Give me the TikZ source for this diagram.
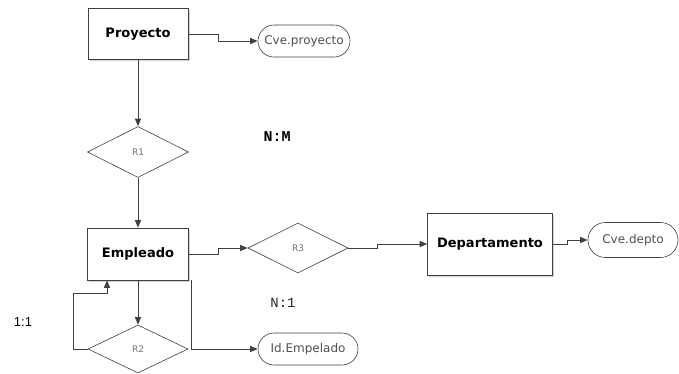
\documentclass[tikz,border=0pt]{standalone}
\usepackage{fontspec}
\setmainfont{DejaVu Sans}
\newfontfamily\monofont{Liberation Mono}
\newfontfamily\labsans{Liberation Sans}
\usetikzlibrary{shapes.geometric,shapes.misc,arrows.meta,shadows}
\definecolor{linec}{HTML}{404040}
\definecolor{txtgray}{HTML}{505050}
\begin{document}
\begin{tikzpicture}[x=1pt,y=-1pt,
  line/.style={draw=linec, line width=0.9pt},
  arr/.style={line, -{Triangle[length=7.5pt,width=6pt]}},
  entity/.style={rectangle, draw=black!75, fill=white, line width=0.6pt, inner sep=0pt,
    drop shadow={shadow xshift=1.5pt, shadow yshift=-1.5pt, opacity=0.35},
    font=\bfseries\fontsize{13}{13}\selectfont},
  rel/.style={diamond, draw=black!75, fill=white, line width=0.6pt, inner sep=0pt, aspect=2,
    text=txtgray!80, font=\fontsize{9}{9}\selectfont},
  attr/.style={rounded rectangle, draw=black!75, fill=white, line width=0.6pt, inner sep=0pt,
    text=txtgray, font=\fontsize{12}{12}\selectfont},
  card/.style={inner sep=0pt}]
\useasboundingbox (0,0) rectangle (679,373);
\fill[white] (0,0) rectangle (679,373);

\node[entity, minimum width=100pt, minimum height=51pt] (P) at (138,34) {Proyecto};
\node[attr, minimum width=92pt, minimum height=32pt] (CP) at (304,41) {Cve.proyecto};
\node[rel, minimum width=101pt, minimum height=51pt] (R1) at (138,152) {R1};
\node[entity, minimum width=101pt, minimum height=52pt] (E) at (138,254) {Empleado};
\node[rel, minimum width=100pt, minimum height=50pt] (R3) at (298,248) {R3};
\node[entity, minimum width=125pt, minimum height=62pt] (D) at (490,244) {Departamento};
\node[attr, minimum width=90pt, minimum height=35pt] (CD) at (633,240) {Cve.depto};
\node[rel, minimum width=100pt, minimum height=48pt] (R2) at (138,349) {R2};
\node[attr, minimum width=100pt, minimum height=32pt] (ID) at (308,349) {Id.Empelado};

\node[card, font=\monofont\bfseries\fontsize{15}{15}\selectfont] (NM) at (277,137) {N:M};
\node[card, text=black!85, font=\monofont\fontsize{14}{14}\selectfont] (N1) at (283,303) {N:1};
\node[card, font=\labsans\fontsize{13}{13}\selectfont] (OO) at (23,322) {1:1};

\coordinate (a1) at (218,34);
\coordinate (a2) at (218,254);
\coordinate (a3) at (377,248);
\coordinate (a4) at (567,244);
\coordinate (la) at (73,293);
\coordinate (lb) at (107,293);

\draw[arr] (P.east) -- (a1) |- (CP.west);
\draw[arr] (P.south) -- (R1.north);
\draw[arr] (R1.south) -- (E.north);
\draw[arr] (E.east) -- (a2) |- (R3.west);
\draw[arr] (R3.east) -- (a3) |- (D.west);
\draw[arr] (D.east) -- (a4) |- (CD.west);
\draw[arr] (E.south) -- (R2.north);
\draw[arr] (R2.west) -| (la) -- (lb) -- (lb |- E.south);
\draw[arr] ([xshift=3pt]E.south east) |- (ID.west);
\end{tikzpicture}
\end{document}
